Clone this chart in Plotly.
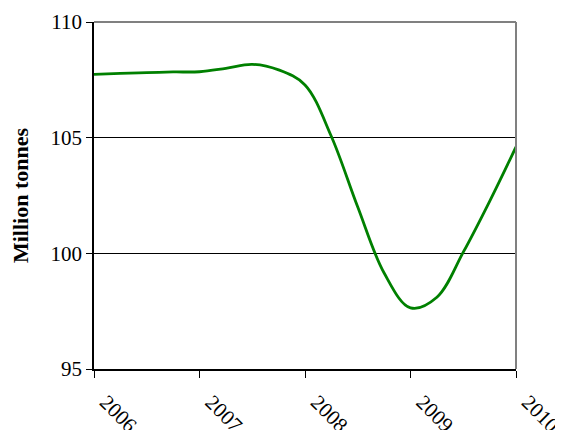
import plotly.graph_objects as go

years = [2006.0, 2006.25, 2006.5, 2006.75, 2007.0, 2007.25, 2007.5, 2007.75,
         2008.0, 2008.25, 2008.5, 2008.75, 2009.0, 2009.25, 2009.5, 2009.75, 2010.0]
production = [107.74, 107.78, 107.81, 107.84, 107.85, 108.0, 108.17, 107.93,
              107.28, 105.05, 102.0, 99.15, 97.64, 98.1, 100.05, 102.25, 104.6]
tick_years = [2006, 2007, 2008, 2009, 2010]
tick_labels = ["2006", "2007", "2008", "2009", "2010"]
y_ticks = [95, 100, 105, 110]

FONT = "Liberation Serif"

fig = go.Figure()
fig.add_trace(go.Scatter(
    x=years, y=production, mode="lines",
    line=dict(color="#008000", width=2.8, shape="spline", smoothing=1.0),
    hoverinfo="skip", showlegend=False,
))

fig.update_layout(
    width=555, height=422,
    margin=dict(l=86, r=47, t=14, b=61),
    paper_bgcolor="white", plot_bgcolor="white",
    font=dict(family=FONT, color="black"),
    xaxis=dict(
        range=[2006, 2010], tickvals=tick_years, ticktext=tick_labels,
        tickangle=45, tickfont=dict(size=21, family=FONT),
        showgrid=False, zeroline=False, automargin=False,
        showline=True, linecolor="black", linewidth=1.5,
        ticks="outside", ticklen=7, tickcolor="black", tickwidth=1,
        ticklabelstandoff=4, ticklabelshift=12, ticklabeloverflow="allow",
    ),
    yaxis=dict(
        range=[95, 110], tickvals=y_ticks,
        tickfont=dict(size=21, family=FONT),
        showgrid=True, gridcolor="black", gridwidth=1,
        zeroline=False, automargin=False,
        showline=True, linecolor="black", linewidth=1.5,
        ticks="outside", ticklen=6, tickcolor="black", tickwidth=1,
        title=dict(text="<b>Million tonnes</b>", font=dict(size=22, family=FONT), standoff=22),
    ),
    shapes=[
        dict(type="line", xref="paper", yref="paper", x0=0, x1=1, y0=1, y1=1,
             line=dict(color="#808080", width=2), layer="above"),
        dict(type="line", xref="paper", yref="paper", x0=1, x1=1, y0=0, y1=1,
             line=dict(color="#808080", width=2), layer="above"),
    ],
)

fig.write_html("out.html")
